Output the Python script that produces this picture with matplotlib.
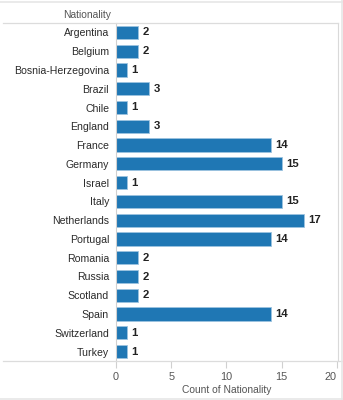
import matplotlib
matplotlib.use("Agg")
import matplotlib.pyplot as plt
from matplotlib.lines import Line2D

countries = ["Argentina", "Belgium", "Bosnia-Herzegovina", "Brazil", "Chile",
             "England", "France", "Germany", "Israel", "Italy", "Netherlands",
             "Portugal", "Romania", "Russia", "Scotland", "Spain",
             "Switzerland", "Turkey"]
counts = [2, 2, 1, 3, 1, 3, 14, 15, 1, 15, 17, 14, 2, 2, 2, 14, 1, 1]
xticks = [0, 5, 10, 15, 20]

plt.rcParams["font.family"] = ["Liberation Sans", "DejaVu Sans"]

fig = plt.figure(figsize=(3.43, 4.0), dpi=100)
ax = fig.add_axes([116 / 343, 1 - 361 / 400, (338 - 116) / 343, (361 - 23) / 400])

y = list(range(len(countries)))
ax.barh(y, counts, height=0.7, color="#1f77b4", edgecolor="#9cc3e0", linewidth=0.6)
for yi, c in zip(y, counts):
    ax.text(c + 0.4, yi, str(c), va="center", ha="left", fontsize=8.2,
            fontweight="bold", color="#222222")

ax.set_ylim(len(countries) - 0.5, -0.5)
ax.set_xlim(0, 20.1)
ax.set_yticks(y)
ax.set_yticklabels(countries, fontsize=7.6, color="#2a2a2a")
ax.tick_params(axis="y", length=0, pad=5)
ax.set_xticks(xticks)
ax.set_xticklabels([str(t) for t in xticks], fontsize=7.8, color="#555555")
ax.tick_params(axis="x", length=5, color="#d0d0d0", width=0.8, pad=3)
labs = ax.get_xticklabels()
labs[-1].set_ha("right")
ax.set_xlabel("Count of Nationality", fontsize=7.4, color="#555555", labelpad=2)

for s in ["top", "bottom"]:
    ax.spines[s].set_visible(False)
ax.spines["left"].set_color("#d0d0d0")
ax.spines["right"].set_color("#d9d9d9")
ax.spines["left"].set_linewidth(0.8)
ax.spines["right"].set_linewidth(0.8)

gray = "#dcdcdc"
# header and bottom rules extending across the label column
fig.add_artist(Line2D([3 / 343, 338 / 343], [1 - 23 / 400] * 2, color=gray, lw=0.9))
fig.add_artist(Line2D([3 / 343, 1], [1 - 361 / 400] * 2, color=gray, lw=0.9))
# outer frame
fig.add_artist(Line2D([0, 1], [1 - 1.5 / 400] * 2, color="#e6e6e6", lw=1.2))
fig.add_artist(Line2D([0, 1], [1.5 / 400] * 2, color="#e6e6e6", lw=1.2))
fig.add_artist(Line2D([1 - 1.5 / 343] * 2, [0, 1], color="#e6e6e6", lw=1.2))

fig.text(111 / 343, 1 - 15 / 400, "Nationality", fontsize=7.4, color="#555555",
         ha="right", va="center")

fig.savefig("out.png", dpi=100)
